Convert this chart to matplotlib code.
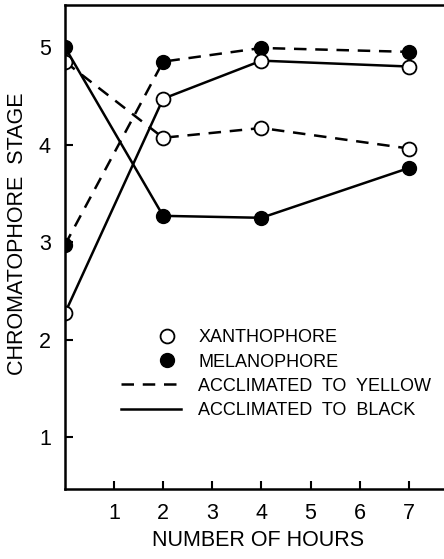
import numpy as np
import matplotlib.pyplot as plt
from matplotlib.lines import Line2D
from matplotlib.legend_handler import HandlerLine2D

plt.rcParams['font.family'] = ['Liberation Sans', 'DejaVu Sans']

# Datos
horas = [0, 2, 4, 7]
xanto_amarillo = [4.85, 4.07, 4.17, 3.96]
melano_amarillo = [2.97, 4.85, 4.99, 4.95]
xanto_negro = [2.27, 4.47, 4.86, 4.80]
melano_negro = [5.0, 3.27, 3.25, 3.76]


# marcador de la leyenda desplazado a la derecha, como en el original
class MarcadorDerecha(HandlerLine2D):
    def create_artists(self, legend, orig_handle, xdescent, ydescent,
                       width, height, fontsize, trans):
        arts = super().create_artists(legend, orig_handle, xdescent, ydescent,
                                      width, height, fontsize, trans)
        for a in arts:
            a.set_xdata(np.full(len(a.get_xdata()), 0.77 * width - xdescent))
        return arts


fig = plt.figure(figsize=(4.44, 5.59), dpi=100)
ax = fig.add_axes([0.146, 0.125, 0.87, 0.866])

lw = 1.8
ms = 10
ax.plot(horas, xanto_amarillo, '--', color='black', lw=lw, dashes=(5, 3.5),
        marker='o', ms=ms, mfc='white', mec='black', mew=1.3)
ax.plot(horas, melano_amarillo, '--', color='black', lw=lw, dashes=(5, 3.5),
        marker='o', ms=ms, mfc='black', mec='black')
ax.plot(horas, xanto_negro, '-', color='black', lw=lw,
        marker='o', ms=ms, mfc='white', mec='black', mew=1.3)
ax.plot(horas, melano_negro, '-', color='black', lw=lw,
        marker='o', ms=ms, mfc='black', mec='black')

ax.set_xlim(0, 7.86)
ax.set_ylim(0.47, 5.43)
ax.set_xticks([1, 2, 3, 4, 5, 6, 7])
ax.set_yticks([1, 2, 3, 4, 5])
ax.tick_params(direction='in', length=6, width=1.5, labelsize=15.5, pad=10)
ax.spines['right'].set_visible(False)
for s in ['left', 'top', 'bottom']:
    ax.spines[s].set_linewidth(1.8)

ax.set_xlabel('NUMBER OF HOURS', fontsize=15.5, labelpad=4)
ax.set_ylabel('CHROMATOPHORE  STAGE', fontsize=15.5)
ax.yaxis.set_label_coords(-0.095, 0.527)

abierto = Line2D([], [], ls='none', marker='o', ms=ms, mfc='white', mec='black', mew=1.3)
lleno = Line2D([], [], ls='none', marker='o', ms=ms, mfc='black', mec='black')
handles = [
    abierto,
    lleno,
    Line2D([], [], ls='--', color='black', lw=lw, dashes=(5, 3.5)),
    Line2D([], [], ls='-', color='black', lw=lw),
]
etiquetas = ['XANTHOPHORE', 'MELANOPHORE', 'ACCLIMATED  TO  YELLOW', 'ACCLIMATED  TO  BLACK']
ax.legend(handles, etiquetas, loc='upper left', bbox_to_anchor=(0.128, 0.345),
          frameon=False, fontsize=13, handlelength=3.3, labelspacing=0.4,
          handletextpad=0.95, borderaxespad=0,
          handler_map={abierto: MarcadorDerecha(), lleno: MarcadorDerecha()})

fig.savefig('out.png', dpi=100)
